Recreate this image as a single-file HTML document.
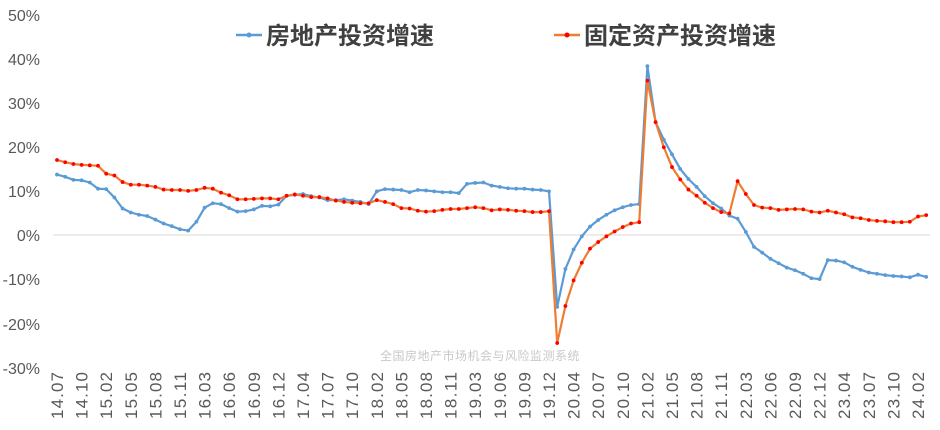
<!DOCTYPE html>
<html><head><meta charset="utf-8"><style>
html,body{margin:0;padding:0;background:#fff;}
svg{display:block;font-family:"Liberation Sans","Noto Sans CJK SC",sans-serif;}
.y{font-size:16px;fill:#595959;text-anchor:end;}
.x{font-size:17px;fill:#595959;text-anchor:end;}
.lg{font-size:24px;font-weight:bold;fill:#404040;font-family:"Noto Sans CJK SC",sans-serif;}
</style></head><body>
<svg id="s" width="940" height="430" viewBox="0 0 940 430">
<text class="y" x="40" y="21">50%</text>
<text class="y" x="40" y="65">40%</text>
<text class="y" x="40" y="109">30%</text>
<text class="y" x="40" y="153">20%</text>
<text class="y" x="40" y="197">10%</text>
<text class="y" x="40" y="241">0%</text>
<text class="y" x="40" y="285">-10%</text>
<text class="y" x="40" y="330">-20%</text>
<text class="y" x="40" y="374">-30%</text>
<line x1="53" y1="235" x2="930" y2="235" stroke="#d9d9d9" stroke-width="1"/>
<text x="480" y="360" font-size="12" fill="#c8c8c8" text-anchor="middle" letter-spacing="0.5" font-family="Noto Sans CJK SC,sans-serif">全国房地产市场机会与风险监测系统</text>
<g id="xl">
<text class="x" textLength="47" transform="translate(63,372) rotate(-90)">14.07</text>
<text class="x" textLength="47" transform="translate(87.6,372) rotate(-90)">14.10</text>
<text class="x" textLength="47" transform="translate(112.2,372) rotate(-90)">15.02</text>
<text class="x" textLength="47" transform="translate(136.8,372) rotate(-90)">15.05</text>
<text class="x" textLength="47" transform="translate(161.4,372) rotate(-90)">15.08</text>
<text class="x" textLength="47" transform="translate(186,372) rotate(-90)">15.11</text>
<text class="x" textLength="47" transform="translate(210.6,372) rotate(-90)">16.03</text>
<text class="x" textLength="47" transform="translate(235.2,372) rotate(-90)">16.06</text>
<text class="x" textLength="47" transform="translate(259.8,372) rotate(-90)">16.09</text>
<text class="x" textLength="47" transform="translate(284.4,372) rotate(-90)">16.12</text>
<text class="x" textLength="47" transform="translate(309,372) rotate(-90)">17.04</text>
<text class="x" textLength="47" transform="translate(333.6,372) rotate(-90)">17.07</text>
<text class="x" textLength="47" transform="translate(358.2,372) rotate(-90)">17.10</text>
<text class="x" textLength="47" transform="translate(382.8,372) rotate(-90)">18.02</text>
<text class="x" textLength="47" transform="translate(407.4,372) rotate(-90)">18.05</text>
<text class="x" textLength="47" transform="translate(432,372) rotate(-90)">18.08</text>
<text class="x" textLength="47" transform="translate(456.6,372) rotate(-90)">18.11</text>
<text class="x" textLength="47" transform="translate(481.2,372) rotate(-90)">19.03</text>
<text class="x" textLength="47" transform="translate(505.8,372) rotate(-90)">19.06</text>
<text class="x" textLength="47" transform="translate(530.4,372) rotate(-90)">19.09</text>
<text class="x" textLength="47" transform="translate(555,372) rotate(-90)">19.12</text>
<text class="x" textLength="47" transform="translate(579.6,372) rotate(-90)">20.04</text>
<text class="x" textLength="47" transform="translate(604.2,372) rotate(-90)">20.07</text>
<text class="x" textLength="47" transform="translate(628.8,372) rotate(-90)">20.10</text>
<text class="x" textLength="47" transform="translate(653.4,372) rotate(-90)">21.02</text>
<text class="x" textLength="47" transform="translate(678,372) rotate(-90)">21.05</text>
<text class="x" textLength="47" transform="translate(702.6,372) rotate(-90)">21.08</text>
<text class="x" textLength="47" transform="translate(727.2,372) rotate(-90)">21.11</text>
<text class="x" textLength="47" transform="translate(751.8,372) rotate(-90)">22.03</text>
<text class="x" textLength="47" transform="translate(776.4,372) rotate(-90)">22.06</text>
<text class="x" textLength="47" transform="translate(801,372) rotate(-90)">22.09</text>
<text class="x" textLength="47" transform="translate(825.6,372) rotate(-90)">22.12</text>
<text class="x" textLength="47" transform="translate(850.2,372) rotate(-90)">23.04</text>
<text class="x" textLength="47" transform="translate(874.8,372) rotate(-90)">23.07</text>
<text class="x" textLength="47" transform="translate(899.4,372) rotate(-90)">23.10</text>
<text class="x" textLength="47" transform="translate(924,372) rotate(-90)">24.02</text>
</g>
<line x1="236" y1="35" x2="262" y2="35" stroke="#5B9BD5" stroke-width="2.5"/>
<circle cx="249" cy="35" r="2.5" fill="#5B9BD5"/>
<text class="lg" x="266" y="44">房地产投资增速</text>
<line x1="554" y1="35" x2="580" y2="35" stroke="#ED7D31" stroke-width="2.5"/>
<circle cx="567" cy="35" r="2.5" fill="#FF0000"/>
<text class="lg" x="584" y="44">固定资产投资增速</text>
<g id="series"></g>
</svg>
<script>
var A=[13.7,13.2,12.5,12.4,11.9,10.5,10.4,8.5,6.0,5.1,4.6,4.3,3.5,2.6,2.0,1.3,1.0,3.0,6.2,7.2,7.0,6.1,5.3,5.4,5.8,6.6,6.5,6.9,8.9,9.1,9.3,8.8,8.5,7.9,7.9,8.1,7.8,7.5,7.0,9.9,10.4,10.3,10.2,9.7,10.2,10.1,9.9,9.7,9.7,9.5,11.6,11.8,11.9,11.2,10.9,10.6,10.5,10.5,10.3,10.2,9.9,-16.3,-7.7,-3.3,-0.3,1.9,3.4,4.6,5.6,6.3,6.8,7.0,38.3,25.6,21.6,18.3,15.0,12.7,10.9,8.8,7.2,6.0,4.4,3.7,0.7,-2.7,-4.0,-5.4,-6.4,-7.4,-8.0,-8.8,-9.8,-10.0,-5.7,-5.8,-6.2,-7.2,-7.9,-8.5,-8.8,-9.1,-9.3,-9.4,-9.6,-9.0,-9.5];
var B=[17.0,16.5,16.1,15.9,15.8,15.7,13.9,13.5,12.0,11.4,11.4,11.2,10.9,10.3,10.2,10.2,10.0,10.2,10.7,10.5,9.6,9.0,8.1,8.1,8.2,8.3,8.3,8.1,8.9,9.2,8.9,8.6,8.6,8.3,7.8,7.5,7.3,7.2,7.2,7.9,7.5,7.0,6.1,6.0,5.5,5.3,5.4,5.7,5.9,5.9,6.1,6.3,6.1,5.6,5.8,5.7,5.5,5.4,5.2,5.2,5.4,-24.5,-16.1,-10.3,-6.3,-3.1,-1.6,-0.3,0.8,1.8,2.6,2.9,35.0,25.6,19.9,15.4,12.6,10.3,8.9,7.3,6.1,5.2,4.9,12.2,9.3,6.8,6.2,6.1,5.7,5.8,5.9,5.8,5.3,5.1,5.5,5.1,4.7,4.0,3.8,3.4,3.2,3.1,2.9,2.9,3.0,4.2,4.5];
var g=document.getElementById('series'),ns='http://www.w3.org/2000/svg';
function X(i){return 57+8.2*i;}function Y(v){return 235-v*4.41;}
function draw(d,lc,mc){var p=d.map(function(v,i){return X(i).toFixed(1)+','+Y(v).toFixed(1)}).join(' ');
var l=document.createElementNS(ns,'polyline');l.setAttribute('points',p);l.setAttribute('fill','none');l.setAttribute('stroke',lc);l.setAttribute('stroke-width','2.2');l.setAttribute('stroke-linejoin','round');g.appendChild(l);
d.forEach(function(v,i){var c=document.createElementNS(ns,'circle');c.setAttribute('cx',X(i));c.setAttribute('cy',Y(v));c.setAttribute('r','1.9');c.setAttribute('fill',mc);g.appendChild(c);});}
draw(A,'#5B9BD5','#5B9BD5');draw(B,'#ED7D31','#FF0000');
</script>
</body></html>
